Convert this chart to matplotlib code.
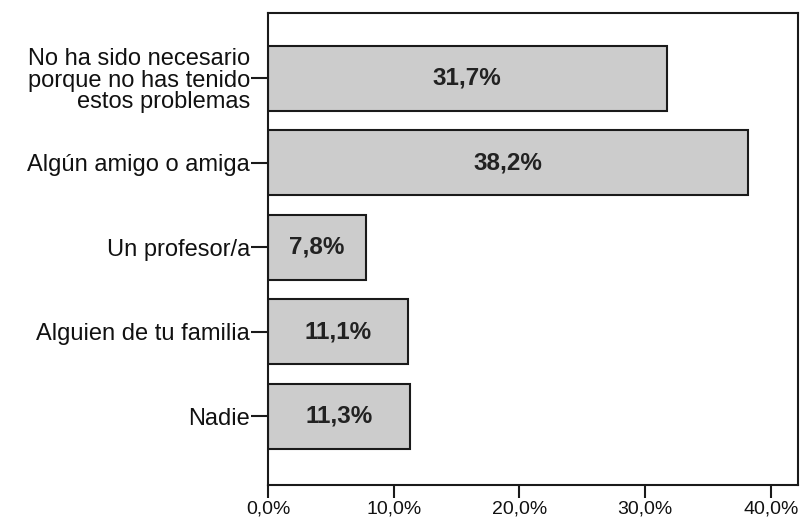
import matplotlib
matplotlib.use("Agg")
import matplotlib.pyplot as plt

# data
categories = ["No ha sido necesario\nporque no has tenido\nestos problemas",
              "Algún amigo o amiga",
              "Un profesor/a",
              "Alguien de tu familia",
              "Nadie"]
values = [31.7, 38.2, 7.8, 11.1, 11.3]
value_labels = ["31,7%", "38,2%", "7,8%", "11,1%", "11,3%"]
x_ticks = [0, 10, 20, 30, 40]
x_tick_labels = ["0,0%", "10,0%", "20,0%", "30,0%", "40,0%"]

plt.rcParams['font.family'] = ['Liberation Sans', 'DejaVu Sans']

fig = plt.figure(figsize=(8, 5.18), dpi=100)
ax = fig.add_axes([0.335, 0.0637, 0.6625, 0.9112])

pos = list(range(len(categories)))
ax.barh(pos, values, height=0.77, color="#cccccc", edgecolor="#1a1a1a", linewidth=1.5)

#value labels centred in each bar
for p, v, lab in zip(pos, values, value_labels):
    ax.text(v / 2, p, lab, ha="center", va="center", fontsize=17.5,
            fontweight="bold", color="#222222")

ax.set_yticks(pos)
ax.set_yticklabels(categories, fontsize=17, linespacing=0.98, color="#111111")
ax.set_xticks(x_ticks)
ax.set_xticklabels(x_tick_labels, fontsize=14, color="#111111")

ax.set_xlim(0, 42.16)
ax.set_ylim(4.817, -0.773)

ax.tick_params(axis="y", length=12, width=1.5, pad=1, color="#1a1a1a")
ax.tick_params(axis="x", length=9, width=1.5, pad=2, color="#1a1a1a")
for s in ax.spines.values():
    s.set_linewidth(1.5)
    s.set_color("#1a1a1a")

fig.savefig("out.png", dpi=100)
